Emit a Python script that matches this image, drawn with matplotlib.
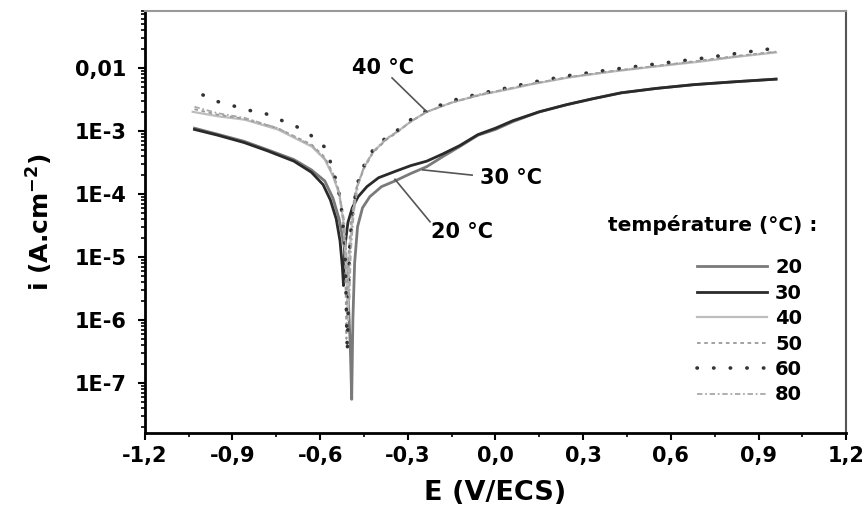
import numpy as np
import matplotlib
matplotlib.use('Agg')
import matplotlib.pyplot as plt
from matplotlib.ticker import FixedLocator, FixedFormatter, LogLocator, NullFormatter, MultipleLocator

plt.rcParams['font.family'] = ['DejaVu Sans']
plt.rcParams['font.weight'] = 'bold'
plt.rcParams['mathtext.default'] = 'bf'

# Polarisation curves (E in V/ECS, i in A.cm-2)
E_20 = [-1.03, -0.95, -0.86, -0.78, -0.69, -0.63, -0.584, -0.556, -0.535, -0.518, -0.505, -0.497, -0.492,
        -0.488, -0.482, -0.472, -0.455, -0.43, -0.39, -0.344, -0.29, -0.235, -0.18, -0.123, -0.06, 0.0,
        0.06, 0.15, 0.244, 0.33, 0.43, 0.55, 0.68, 0.82, 0.96]
i_20 = [1.1e-3, 8.8e-4, 6.8e-4, 5.0e-4, 3.5e-4, 2.4e-4, 1.6e-4, 8.5e-5, 4.0e-5, 1.5e-5, 3e-6, 4e-7, 5.5e-8,
        1e-6, 8e-6, 3e-5, 6e-5, 9e-5, 1.3e-4, 1.6e-4, 2.1e-4, 2.7e-4, 3.9e-4, 5.6e-4, 8.5e-4, 1.05e-3,
        1.4e-3, 2.0e-3, 2.6e-3, 3.2e-3, 4.0e-3, 4.7e-3, 5.4e-3, 6.0e-3, 6.6e-3]

E_30 = [-1.03, -0.95, -0.86, -0.78, -0.69, -0.63, -0.59, -0.565, -0.545, -0.532, -0.524, -0.52,
        -0.515, -0.505, -0.49, -0.47, -0.44, -0.40, -0.34, -0.29, -0.235, -0.18, -0.123, -0.06, 0.0,
        0.06, 0.15, 0.244, 0.33, 0.43, 0.55, 0.68, 0.82, 0.96]
i_30 = [1.05e-3, 8.5e-4, 6.5e-4, 4.8e-4, 3.3e-4, 2.2e-4, 1.4e-4, 8e-5, 4e-5, 1.8e-5, 7e-6, 3.5e-6,
        1.5e-5, 3.5e-5, 6e-5, 9e-5, 1.3e-4, 1.8e-4, 2.3e-4, 2.8e-4, 3.3e-4, 4.3e-4, 5.8e-4, 8.7e-4, 1.1e-3,
        1.45e-3, 2.0e-3, 2.6e-3, 3.2e-3, 4.0e-3, 4.7e-3, 5.4e-3, 6.0e-3, 6.6e-3]

E_40 = [-1.036, -0.95, -0.858, -0.745, -0.628, -0.584, -0.556, -0.535, -0.52, -0.51, -0.505,
        -0.50, -0.49, -0.474, -0.45, -0.419, -0.372, -0.338, -0.29, -0.235, -0.15, -0.053, 0.05,
        0.118, 0.25, 0.40, 0.55, 0.70, 0.83, 0.96]
i_40 = [2.0e-3, 1.7e-3, 1.5e-3, 1.05e-3, 5.6e-4, 3.5e-4, 1.9e-4, 1.0e-4, 3.5e-5, 5e-6, 1e-6,
        1e-5, 4e-5, 1.3e-4, 2.6e-4, 4.6e-4, 7.5e-4, 9.5e-4, 1.4e-3, 2.0e-3, 2.8e-3, 3.7e-3, 4.6e-3,
        5.4e-3, 7.0e-3, 8.7e-3, 1.05e-2, 1.25e-2, 1.5e-2, 1.75e-2]

E_50 = [-1.03, -0.95, -0.858, -0.745, -0.628, -0.584, -0.556, -0.535, -0.522, -0.514, -0.51,
        -0.505, -0.495, -0.48, -0.45, -0.419, -0.372, -0.338, -0.29, -0.235, -0.15, -0.053, 0.05,
        0.118, 0.25, 0.40, 0.55, 0.70, 0.83, 0.96]
i_50 = [2.2e-3, 1.8e-3, 1.55e-3, 1.1e-3, 6.0e-4, 3.8e-4, 2.1e-4, 1.1e-4, 4e-5, 6e-6, 5e-7,
        8e-6, 3.5e-5, 1.1e-4, 2.5e-4, 4.5e-4, 7.3e-4, 9.3e-4, 1.4e-3, 2.0e-3, 2.8e-3, 3.7e-3, 4.7e-3,
        5.5e-3, 7.1e-3, 8.9e-3, 1.07e-2, 1.3e-2, 1.55e-2, 1.8e-2]

E_60 = [-1.001, -0.95, -0.899, -0.841, -0.79, -0.738, -0.686, -0.642, -0.584, -0.556, -0.53, -0.515,
        -0.507, -0.50, -0.49, -0.474, -0.45, -0.419, -0.372, -0.338, -0.29, -0.235, -0.15, -0.053,
        0.05, 0.118, 0.25, 0.40, 0.55, 0.70, 0.83, 0.96]
i_60 = [3.7e-3, 2.9e-3, 2.5e-3, 2.1e-3, 1.9e-3, 1.5e-3, 1.2e-3, 9.3e-4, 5.5e-4, 2.5e-4, 8e-5, 1.5e-5,
        3e-7, 1.2e-5, 4.5e-5, 1.4e-4, 2.8e-4, 5.0e-4, 8.0e-4, 1.0e-3, 1.5e-3, 2.1e-3, 3.0e-3, 3.9e-3,
        4.9e-3, 5.8e-3, 7.5e-3, 9.4e-3, 1.15e-2, 1.4e-2, 1.7e-2, 2.05e-2]

E_80 = [-1.03, -0.95, -0.858, -0.745, -0.628, -0.584, -0.556, -0.535, -0.518, -0.508, -0.50,
        -0.495, -0.485, -0.47, -0.45, -0.419, -0.372, -0.338, -0.29, -0.235, -0.15, -0.053, 0.05,
        0.118, 0.25, 0.40, 0.55, 0.70, 0.83, 0.96]
i_80 = [2.4e-3, 1.9e-3, 1.6e-3, 1.1e-3, 5.8e-4, 3.6e-4, 2.0e-4, 1.05e-4, 3.8e-5, 8e-6, 2e-6,
        1.2e-5, 5e-5, 1.4e-4, 2.7e-4, 4.7e-4, 7.6e-4, 9.6e-4, 1.4e-3, 2.0e-3, 2.8e-3, 3.8e-3, 4.7e-3,
        5.5e-3, 7.1e-3, 8.8e-3, 1.06e-2, 1.28e-2, 1.52e-2, 1.78e-2]

temps = ['20', '30', '40', '50', '60', '80']

y_ticks = [1e-7, 1e-6, 1e-5, 1e-4, 1e-3, 1e-2]
y_labels = ['1E-7', '1E-6', '1E-5', '1E-4', '1E-3', '0,01']
x_ticks = [-1.2, -0.9, -0.6, -0.3, 0.0, 0.3, 0.6, 0.9, 1.2]
x_labels = ['-1,2', '-0,9', '-0,6', '-0,3', '0,0', '0,3', '0,6', '0,9', '1,2']

fig = plt.figure(figsize=(8.67, 5.15), dpi=100)
ax = fig.add_axes([0.167, 0.159, 0.809, 0.82])

ax.plot(E_20, i_20, color='#7a7a7a', lw=2.0, label=temps[0])
ax.plot(E_30, i_30, color='#2a2a2a', lw=2.0, label=temps[1])
ax.plot(E_40, i_40, color='#bdbdbd', lw=1.6, label=temps[2])
ax.plot(E_50, i_50, color='#9a9a9a', lw=1.3, ls=(0, (2, 2)), label=temps[3])
ax.plot(E_60, i_60, color='#333333', lw=2.6, ls=(0, (0.1, 4.5)), dash_capstyle='round', label=temps[4])
ax.plot(E_80, i_80, color='#a8a8a8', lw=1.3, ls=(0, (3, 1.5, 1, 1.5)), label=temps[5])

ax.set_yscale('log')
ax.set_xlim(-1.2, 1.2)
ax.set_ylim(1.6e-8, 0.08)

ax.yaxis.set_major_locator(FixedLocator(y_ticks))
ax.yaxis.set_major_formatter(FixedFormatter(y_labels))
ax.yaxis.set_minor_locator(LogLocator(base=10, subs=np.arange(2, 10)))
ax.yaxis.set_minor_formatter(NullFormatter())
ax.xaxis.set_major_locator(FixedLocator(x_ticks))
ax.xaxis.set_major_formatter(FixedFormatter(x_labels))
ax.xaxis.set_minor_locator(MultipleLocator(0.15))

ax.tick_params(which='major', direction='out', length=5, width=1.5, labelsize=15, pad=4)
ax.tick_params(axis='y', which='major', pad=8)
ax.tick_params(which='minor', direction='out', length=3, width=1.2)
for s in ['left', 'bottom']:
    ax.spines[s].set_linewidth(2.0)
ax.spines['right'].set_linewidth(1.5)
ax.spines['right'].set_color('#555555')
ax.spines['top'].set_linewidth(1.5)
ax.spines['top'].set_color('#999999')

ax.set_xlabel('E (V/ECS)', fontsize=19.5, fontweight='bold', labelpad=10)
ax.set_ylabel(r'i (A.cm$^{-2}$)', fontsize=18, fontweight='bold', labelpad=14)

# curve labels with leader lines
ax.text(-0.385, 0.01, '40 °C', fontsize=15, fontweight='bold', ha='center', va='center')
ax.plot([-0.354, -0.235], [6.9e-3, 2.0e-3], color='#555555', lw=1.2)
ax.text(0.054, 1.8e-4, '30 °C', fontsize=15, fontweight='bold', ha='center', va='center')
ax.plot([-0.08, -0.249], [1.98e-4, 2.4e-4], color='#555555', lw=1.2)
ax.text(-0.114, 2.45e-5, '20 °C', fontsize=15, fontweight='bold', ha='center', va='center')
ax.plot([-0.344, -0.224], [1.7e-4, 3.6e-5], color='#555555', lw=1.2)

ax.text(0.959, 0.493, 'température (°C) :', transform=ax.transAxes, fontsize=14.5,
        fontweight='bold', ha='right', va='center')
leg = ax.legend(loc='upper right', bbox_to_anchor=(0.937, 0.414), frameon=False,
                fontsize=14, handlelength=3.6, handletextpad=0.4, labelspacing=0.33,
                borderpad=0.0, borderaxespad=0.0)

fig.savefig('out.png', dpi=100)
